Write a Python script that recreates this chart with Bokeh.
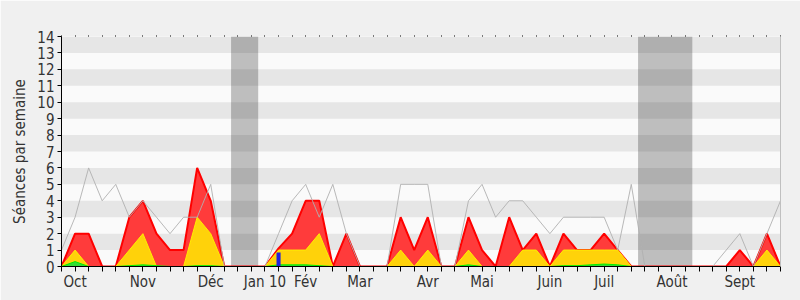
from bokeh.plotting import figure
from bokeh.models import Range1d, FixedTicker, LinearAxis, Label, Grid
from bokeh.embed import file_html
from bokeh.resources import INLINE

# ---- data (weekly, session 2009-2010) ----
weeks = list(range(54))
median = [1, 3, 6, 4, 5, 3, 4, 3, 2, 3, 3, 5,
          0, 0, 0, 0,
          2, 4, 5, 3, 5, 2,
          0, 0, 0,
          5, 5, 5, 0, 0,
          4, 5, 3, 4, 4, 3, 2, 3, 3, 3,
          3, 1, 5,
          0, 0, 0, 0, 0, 0,
          1, 2, 0, 2, 4]
presence = [0, 2, 2, 0, 0, 3, 4, 2, 1, 1, 6, 4,
            0, 0, 0, 0,
            1.1, 2, 4, 4, 0, 2,
            0, 0, 0,
            3, 1, 3, 0, 0,
            3, 1, 0, 3, 1, 2, 0, 2, 1, 1,
            2, 1, 0,
            0, 0, 0, 0, 0, 0,
            0, 1, 0, 2, 0]
participation = [0, 1, 0, 0, 0, 1, 2, 0, 0, 0, 3, 2,
                 0, 0, 0, 0,
                 1, 1, 1, 2, 0, 0,
                 0, 0, 0,
                 1, 0, 1, 0, 0,
                 1, 0, 0, 0, 1, 1, 0, 1, 1, 1,
                 1, 1, 0,
                 0, 0, 0, 0, 0, 0,
                 0, 0, 0, 1, 0]
interventions = [0, 0.3, 0, 0, 0, 0.05, 0.1, 0.05, 0, 0, 0.05, 0.05,
                 0, 0, 0, 0,
                 0.1, 0.1, 0.1, 0.05, 0, 0,
                 0, 0, 0,
                 0, 0, 0, 0, 0,
                 0.1, 0, 0, 0, 0, 0, 0, 0.05, 0.05, 0.1,
                 0.15, 0.1, 0,
                 0, 0, 0, 0, 0, 0,
                 0, 0, 0, 0, 0]
question_weeks = [16]
question_values = [0.85]
vac_start = [13, 43]
vac_end = [14, 46]
month_weeks = [1, 6, 11, 15, 18, 22, 27, 31, 36, 40, 45, 50]
month_labels = ["Oct", "Nov", "Déc", "Jan 10", "Fév", "Mar", "Avr", "Mai",
                "Juin", "Juil", "Août", "Sept"]
y_ticks = list(range(15))

FONT = "DejaVu Sans Condensed, DejaVu Sans"
TXT = "#333333"

p = figure(width=800, height=300, output_backend="svg", toolbar_location=None,
           x_range=Range1d(0, 53), y_range=Range1d(0, 14),
           min_border_left=61, min_border_right=20, min_border_top=36,
           min_border_bottom=34, x_axis_type=None, y_axis_type=None)
p.border_fill_color = "#f0f0f0"
p.background_fill_color = "#fafafa"
p.outline_line_color = None

# axes
xax = LinearAxis(ticker=FixedTicker(ticks=weeks))
xax.major_label_overrides = {w: "" for w in weeks}
xax.major_label_overrides.update({w: l for w, l in zip(month_weeks, month_labels)})
xax.major_tick_in = 0
xax.major_tick_out = 5
xax.minor_tick_line_color = None
xax.axis_line_color = "black"
xax.major_tick_line_color = "black"
xax.major_label_text_font = FONT
xax.major_label_text_font_size = "15px"
xax.major_label_text_color = TXT
xax.major_label_standoff = 1
p.add_layout(xax, "below")

top = LinearAxis(ticker=FixedTicker(ticks=weeks))
top.major_label_overrides = {w: "" for w in weeks}
top.major_label_text_font_size = "0px"
top.axis_line_color = None
top.major_tick_in = 0
top.major_tick_out = 1
top.major_tick_line_color = "black"
top.minor_tick_line_color = None
p.add_layout(top, "above")

right = LinearAxis(ticker=FixedTicker(ticks=[]))
right.axis_line_color = "#c0c0c0"
right.major_label_text_font_size = "0px"
right.major_tick_line_color = None
right.minor_tick_line_color = None
p.add_layout(right, "right")

yax = LinearAxis(ticker=FixedTicker(ticks=y_ticks))
yax.major_tick_in = 0
yax.major_tick_out = 4
yax.minor_tick_line_color = None
yax.axis_line_color = "black"
yax.major_tick_line_color = "black"
yax.major_label_text_font = FONT
yax.major_label_text_font_size = "15px"
yax.major_label_text_color = TXT
yax.major_label_standoff = 3
yax.axis_label = "Séances par semaine"
yax.axis_label_text_font = FONT
yax.axis_label_text_font_size = "15px"
yax.axis_label_text_font_style = "normal"
yax.axis_label_text_color = TXT
yax.axis_label_standoff = 5
p.add_layout(yax, "left")

g = Grid(dimension=1, ticker=FixedTicker(ticks=y_ticks))
g.grid_line_color = None
g.band_fill_color = "#e6e6e6"
g.band_fill_alpha = 1
p.add_layout(g)

# vacations
p.quad(left=[s - 0.5 for s in vac_start], right=[e + 0.5 for e in vac_end],
       bottom=0, top=14, fill_color="black", fill_alpha=0.24, line_color=None)

# areas
p.varea(x=weeks, y1=0, y2=presence, fill_color="#ff3b3b")
p.line(weeks, presence, line_color="#ff0000", line_width=2)
p.varea(x=weeks, y1=0, y2=participation, fill_color="#ffd20a")
p.line(weeks, participation, line_color="#ffee00", line_width=1)
p.varea(x=weeks, y1=0, y2=interventions, fill_color="#33dd33")
p.line(weeks, interventions, line_color="#00ee00", line_width=1)

p.line(weeks, median, line_color="#b0b0b0", line_width=1, line_alpha=0.9)

p.vbar(x=question_weeks, top=question_values, width=0.3, bottom=0,
       fill_color="#2222dd", line_color=None)

title = Label(x=25.87, y=14, y_offset=18,
              text="Participation globale au cours de la session 2009-2010 (hémicycle et commissions)",
              text_font=FONT, text_font_size="18px", text_color=TXT,
              text_align="center", text_baseline="middle")
p.add_layout(title)

open("out.html", "w").write(file_html(p, INLINE))
